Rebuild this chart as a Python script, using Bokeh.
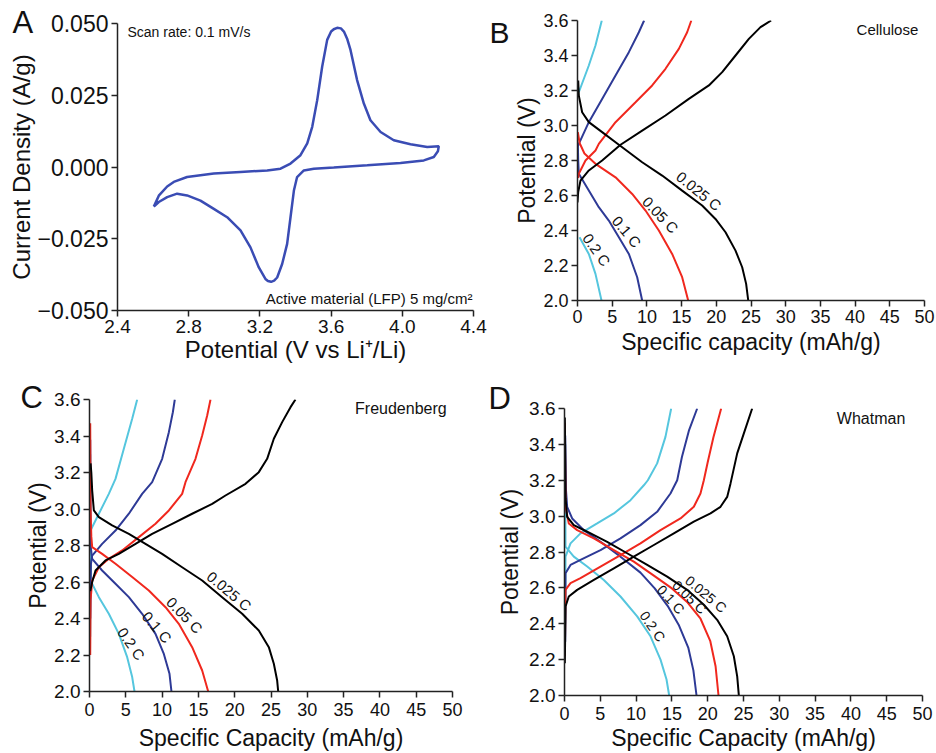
import math
from bokeh.plotting import figure
from bokeh.layouts import row, column
from bokeh.models import Range1d, FixedTicker, Label, Title
from bokeh.core.properties import value
from bokeh.embed import file_html
from bokeh.resources import INLINE

FONT = "Liberation Sans"

# ---------------- Panel A : cyclic voltammogram ----------------
cv_v = [2.604, 2.632, 2.679, 2.716, 2.791, 2.941, 3.091, 3.241, 3.316, 3.372, 3.428, 3.466, 3.494,
        3.522, 3.550, 3.578, 3.600, 3.615, 3.634, 3.655, 3.672, 3.690, 3.709, 3.746, 3.784, 3.821,
        3.878, 3.952, 4.046, 4.140, 4.205, 4.200, 4.177, 4.121, 3.990, 3.803, 3.615, 3.503, 3.447,
        3.409, 3.391, 3.372, 3.353, 3.325, 3.297, 3.280, 3.263, 3.245, 3.231, 3.194, 3.147, 3.091,
        3.016, 2.941, 2.866, 2.791, 2.735, 2.679, 2.632, 2.604]
cv_i = [-0.0138, -0.0100, -0.0068, -0.0052, -0.0035, -0.0023, -0.0017, -0.0012, -0.0006, 0.0012,
        0.0041, 0.0082, 0.0140, 0.0233, 0.0350, 0.0443, 0.0472, 0.0480, 0.0485, 0.0483, 0.0472,
        0.0447, 0.0408, 0.0303, 0.0221, 0.0163, 0.0122, 0.0093, 0.0079, 0.0070, 0.0072, 0.0055,
        0.0035, 0.0023, 0.0014, 0.0006, -0.0002, -0.0006, -0.0012, -0.0035, -0.0082, -0.0175,
        -0.0268, -0.0338, -0.0385, -0.0396, -0.0400, -0.0397, -0.0390, -0.0350, -0.0280, -0.0221,
        -0.0175, -0.0146, -0.0117, -0.0099, -0.0093, -0.0105, -0.0122, -0.0138]
a_xticks = [2.4, 2.8, 3.2, 3.6, 4.0, 4.4]
a_xtick_labels = ["2.4", "2.8", "3.2", "3.6", "4.0", "4.4"]
a_yticks = [-0.05, -0.025, 0.0, 0.025, 0.05]
a_ytick_labels = ["\u22120.050", "\u22120.025", "0.000", "0.025", "0.050"]

# ---------------- shared ticks for B, C, D ----------------
cap_xticks = [0, 5, 10, 15, 20, 25, 30, 35, 40, 45, 50]
pot_yticks = [2.0, 2.2, 2.4, 2.6, 2.8, 3.0, 3.2, 3.4, 3.6]
pot_ytick_labels = ["2.0", "2.2", "2.4", "2.6", "2.8", "3.0", "3.2", "3.4", "3.6"]

rates = ["0.025 C", "0.05 C", "0.1 C", "0.2 C"]
rate_colors = ["#000000", "#f0281e", "#2e3a96", "#55c6de"]

# ---------------- Panel B : Cellulose ----------------
B_025_chg_x = [0, 0.1, 0.43, 1.63, 3.55, 6.2, 9.32, 12.68, 16.04, 18.93, 20.85, 22.77, 24.69, 26.37, 27.9]
B_025_chg_y = [2.56, 2.62, 2.685, 2.743, 2.8, 2.89, 2.971, 3.057, 3.152, 3.229, 3.305, 3.4, 3.495, 3.562, 3.6]
B_025_dis_x = [0.1, 0.19, 0.67, 1.63, 3.55, 5.96, 9.32, 12.2, 15.08, 17.96, 19.88, 21.33, 22.77, 23.73, 24.3, 24.6]
B_025_dis_y = [3.257, 3.171, 3.076, 3.019, 2.962, 2.89, 2.79, 2.714, 2.628, 2.543, 2.466, 2.39, 2.285, 2.19, 2.095, 2.0]
B_05_chg_x = [0.1, 0.19, 1.15, 2.59, 3.07, 5.48, 8.36, 10.76, 12.68, 14.6, 15.8, 16.4]
B_05_chg_y = [2.70, 2.724, 2.8, 2.857, 2.895, 3.019, 3.133, 3.229, 3.324, 3.438, 3.533, 3.6]
B_05_dis_x = [0.05, 0.3, 1.0, 2.59, 5.48, 7.88, 9.8, 11.72, 13.64, 15.08, 15.95]
B_05_dis_y = [2.962, 2.9, 2.84, 2.781, 2.704, 2.609, 2.514, 2.4, 2.266, 2.133, 2.0]
B_1_chg_x = [0.05, 0.19, 1.63, 3.55, 5.48, 7.4, 8.84, 9.6]
B_1_chg_y = [2.88, 2.895, 3.019, 3.152, 3.286, 3.419, 3.533, 3.6]
B_1_dis_x = [0.05, 0.1, 0.19, 1.63, 3.07, 4.51, 5.96, 7.4, 8.6, 9.32]
B_1_dis_y = [2.9, 2.8, 2.724, 2.628, 2.533, 2.457, 2.362, 2.266, 2.133, 2.0]
B_2_chg_x = [0.19, 1.63, 2.59, 3.5]
B_2_chg_y = [3.19, 3.343, 3.457, 3.6]
B_2_dis_x = [0.29, 1.63, 2.59, 3.46]
B_2_dis_y = [2.362, 2.266, 2.152, 2.0]
B_lab_x = [17.5, 11.95, 7.1, 2.75]
B_lab_y = [2.625, 2.49, 2.393, 2.29]
B_lab_angle = [-39, -46, -50, -55]

# ---------------- Panel C : Freudenberg ----------------
C_025_chg_x = [0.1, 0.37, 0.83, 2.2, 4.04, 6.34, 8.63, 11.39, 14.14, 16.9, 18.73, 21.49, 23.32, 24.47, 25.39, 26.54, 27.69, 28.37]
C_025_chg_y = [2.55, 2.6, 2.663, 2.718, 2.754, 2.809, 2.864, 2.919, 2.974, 3.028, 3.074, 3.138, 3.202, 3.275, 3.385, 3.476, 3.558, 3.6]
C_025_dis_x = [0.15, 0.25, 0.37, 0.6, 1.29, 3.12, 5.42, 7.71, 10.0, 12.76, 15.52, 18.27, 21.03, 23.32, 24.7, 25.39, 25.85, 25.99]
C_025_dis_y = [3.25, 3.2, 3.101, 2.992, 2.955, 2.91, 2.864, 2.809, 2.754, 2.681, 2.608, 2.517, 2.426, 2.334, 2.243, 2.152, 2.06, 2.0]
C_05_chg_x = [0.1, 0.15, 0.37, 1.29, 2.66, 4.5, 6.8, 9.09, 10.93, 12.76, 13.22, 14.6, 15.52, 16.21, 16.67]
C_05_chg_y = [2.2, 2.5, 2.608, 2.681, 2.727, 2.773, 2.846, 2.919, 2.992, 3.083, 3.147, 3.275, 3.403, 3.512, 3.6]
C_05_dis_x = [0.1, 0.15, 0.25, 0.37, 1.74, 3.58, 5.88, 8.17, 10.47, 12.3, 14.14, 15.52, 16.35]
C_05_dis_y = [3.47, 3.0, 2.85, 2.791, 2.754, 2.7, 2.627, 2.553, 2.462, 2.371, 2.243, 2.115, 2.0]
C_1_chg_x = [0.1, 0.2, 0.37, 1.74, 3.58, 5.42, 7.25, 8.63, 10.01, 10.93, 11.48, 11.75]
C_1_chg_y = [2.4, 2.7, 2.745, 2.809, 2.882, 2.974, 3.083, 3.147, 3.275, 3.421, 3.53, 3.6]
C_1_dis_x = [0.1, 0.15, 0.37, 1.74, 3.58, 5.42, 7.25, 9.09, 10.24, 11.02, 11.29]
C_1_dis_y = [3.38, 2.8, 2.727, 2.663, 2.59, 2.517, 2.426, 2.316, 2.206, 2.097, 2.0]
C_2_chg_x = [0.1, 0.14, 1.29, 2.66, 3.58, 4.73, 5.88, 6.57]
C_2_chg_y = [2.3, 2.882, 2.974, 3.083, 3.165, 3.33, 3.494, 3.6]
C_2_dis_x = [0.1, 0.14, 1.29, 2.66, 4.04, 5.19, 5.88, 6.2]
C_2_dis_y = [3.3, 2.608, 2.517, 2.426, 2.316, 2.188, 2.079, 2.0]
C_lab_x = [19.25, 13.1, 9.3, 5.75]
C_lab_y = [2.55, 2.418, 2.352, 2.262]
C_lab_angle = [-40, -46, -49, -55]

# ---------------- Panel D : Whatman ----------------
D_025_chg_x = [0.05, 0.14, 0.6, 1.77, 4.1, 6.89, 9.68, 12.48, 15.27, 18.06, 20.39, 21.79, 22.72, 23.18, 24.12, 25.05, 26.21]
D_025_chg_y = [2.18, 2.496, 2.552, 2.589, 2.644, 2.709, 2.774, 2.839, 2.904, 2.969, 3.015, 3.052, 3.107, 3.181, 3.35, 3.461, 3.6]
D_025_dis_x = [0.05, 0.15, 0.37, 1.3, 3.17, 5.96, 8.75, 11.55, 14.34, 17.13, 19.46, 21.32, 22.72, 23.65, 24.12, 24.35]
D_025_dis_y = [3.55, 3.1, 2.996, 2.95, 2.913, 2.857, 2.793, 2.728, 2.663, 2.589, 2.506, 2.422, 2.33, 2.219, 2.107, 2.0]
D_05_chg_x = [0.05, 0.14, 0.84, 2.23, 5.03, 7.82, 10.61, 13.41, 16.2, 18.06, 18.99, 19.46, 20.0, 20.8, 21.88]
D_05_chg_y = [2.22, 2.589, 2.626, 2.654, 2.719, 2.783, 2.848, 2.922, 2.987, 3.052, 3.126, 3.2, 3.3, 3.44, 3.6]
D_05_dis_x = [0.05, 0.15, 0.6, 1.77, 4.1, 6.89, 9.68, 12.48, 15.0, 17.2, 19.0, 20.35, 21.1, 21.51]
D_05_dis_y = [3.52, 3.05, 2.959, 2.922, 2.876, 2.811, 2.746, 2.668, 2.597, 2.518, 2.428, 2.305, 2.163, 2.0]
D_1_chg_x = [0.1, 0.14, 0.84, 2.23, 5.03, 7.82, 10.61, 12.94, 14.8, 15.74, 16.4, 17.4, 18.53]
D_1_chg_y = [2.3, 2.681, 2.728, 2.756, 2.811, 2.876, 2.95, 3.024, 3.126, 3.2, 3.33, 3.48, 3.6]
D_1_dis_x = [0.1, 0.2, 0.37, 1.07, 2.7, 5.03, 7.82, 10.61, 12.6, 14.4, 16.0, 17.3, 18.0, 18.44]
D_1_dis_y = [3.45, 3.15, 3.052, 2.987, 2.922, 2.857, 2.774, 2.685, 2.597, 2.5, 2.39, 2.265, 2.14, 2.0]
D_2_chg_x = [0.1, 0.14, 0.84, 2.23, 4.56, 6.89, 9.22, 11.08, 11.64, 12.94, 14.1, 14.9]
D_2_chg_y = [2.4, 2.774, 2.848, 2.904, 2.959, 3.015, 3.089, 3.172, 3.2, 3.294, 3.442, 3.6]
D_2_dis_x = [0.1, 0.14, 1.3, 3.17, 5.49, 7.82, 10.15, 12.01, 13.41, 14.25, 14.62]
D_2_dis_y = [3.4, 2.83, 2.774, 2.719, 2.644, 2.552, 2.441, 2.33, 2.2, 2.089, 2.0]
D_lab_x = [19.75, 17.45, 14.85, 12.3]
D_lab_y = [2.565, 2.548, 2.535, 2.385]
D_lab_angle = [-40, -44, -48, -55]


def style_axes(p, xtick_size, ytick_size, label_size, xl_standoff, yl_standoff, xt_standoff=3):
    p.outline_line_color = None
    p.grid.visible = False
    p.background_fill_color = "white"
    p.border_fill_color = "white"
    for ax in (p.xaxis[0], p.yaxis[0]):
        ax.axis_line_color = "#222222"
        ax.axis_line_width = 1.5
        ax.major_tick_line_color = "#222222"
        ax.major_tick_line_width = 1.5
        ax.major_tick_out = 6
        ax.major_tick_in = 0
        ax.minor_tick_out = 0
        ax.minor_tick_in = 0
        ax.major_label_text_font = FONT
        ax.major_label_text_color = "#111111"
        ax.axis_label_text_font = FONT
        ax.axis_label_text_font_style = "normal"
        ax.axis_label_text_color = "#111111"
        ax.axis_label_text_font_size = label_size
        ax.major_label_standoff = 3
    p.xaxis[0].major_label_standoff = xt_standoff
    p.xaxis[0].major_label_text_font_size = xtick_size
    p.yaxis[0].major_label_text_font_size = ytick_size
    p.xaxis[0].axis_label_standoff = xl_standoff
    p.yaxis[0].axis_label_standoff = yl_standoff


def make_fig(w, h, bl, br, bt, bb, xr, yr):
    return figure(width=w, height=h, x_range=Range1d(*xr), y_range=Range1d(*yr),
                  output_backend="svg", toolbar_location=None,
                  min_border_left=bl, min_border_right=br,
                  min_border_top=bt, min_border_bottom=bb)


def panel_letter(p, letter, x, y, size):
    p.add_layout(Label(x=x, y=y, x_units="screen", y_units="screen", text=letter,
                       text_font=FONT, text_font_size=size, text_color="#111111",
                       text_align="left", text_baseline="alphabetic"), "left")


def note(p, x, y, txt, size, align="left"):
    p.add_layout(Label(x=x, y=y, text=txt, text_font=FONT, text_font_size=size,
                       text_color="#111111", text_align=align, text_baseline="middle"))


def cap_panel(p, curves, lab_x, lab_y, lab_angle, lab_size="15px"):
    p.xaxis[0].ticker = FixedTicker(ticks=cap_xticks)
    p.yaxis[0].ticker = FixedTicker(ticks=pot_yticks)
    p.yaxis[0].major_label_overrides = {t: s for t, s in zip(pot_yticks, pot_ytick_labels)}
    for (cx, cy), col in curves:
        p.line(cx, cy, line_color=col, line_width=2)
    p.text(x=lab_x, y=lab_y, text=rates, angle=[math.radians(a) for a in lab_angle],
           text_font=value(FONT), text_font_size=lab_size, text_color="#111111",
           text_align="center", text_baseline="middle")


# ---- A ----
pA = make_fig(487, 370, 117, 14, 23, 60, (2.4, 4.4), (-0.05, 0.05))
style_axes(pA, "19px", "23px", "24px", 0, 0)
pA.xaxis[0].ticker = FixedTicker(ticks=a_xticks)
pA.xaxis[0].major_label_overrides = {t: s for t, s in zip(a_xticks, a_xtick_labels)}
pA.yaxis[0].ticker = FixedTicker(ticks=a_yticks)
pA.yaxis[0].major_label_overrides = {t: s for t, s in zip(a_yticks, a_ytick_labels)}
pA.xaxis[0].axis_label = "Potential (V vs Li\u207a/Li)"
pA.yaxis[0].axis_label = "Current Density (A/g)"
pA.line(cv_v, cv_i, line_color="#3a4cb4", line_width=2.5)
note(pA, 2.456, 0.0469, "Scan rate: 0.1 mV/s", "14px")
note(pA, 4.394, -0.0458, "Active material (LFP) 5 mg/cm\u00b2", "15px", align="right")
pA.title = Title(text="A", align="left", offset=-105, standoff=-33, vertical_align="bottom",
                 text_font=FONT, text_font_size="31px", text_font_style="normal",
                 text_color="#111111")

# ---- B ----
pB = make_fig(449, 370, 90, 12, 20, 70, (0, 50), (2.0, 3.6))
style_axes(pB, "18px", "18px", "23px", 3, 0)
pB.xaxis[0].axis_label = "Specific capacity (mAh/g)"
pB.yaxis[0].axis_label = "Potential (V)"
cap_panel(pB, [((B_2_chg_x, B_2_chg_y), rate_colors[3]), ((B_2_dis_x, B_2_dis_y), rate_colors[3]),
               ((B_1_chg_x, B_1_chg_y), rate_colors[2]), ((B_1_dis_x, B_1_dis_y), rate_colors[2]),
               ((B_05_chg_x, B_05_chg_y), rate_colors[1]), ((B_05_dis_x, B_05_dis_y), rate_colors[1]),
               ((B_025_chg_x, B_025_chg_y), rate_colors[0]), ((B_025_dis_x, B_025_dis_y), rate_colors[0])],
          B_lab_x, B_lab_y, B_lab_angle)
note(pB, 49.1, 3.549, "Cellulose", "15px", align="right")
panel_letter(pB, "B", -2, 268, "30px")

# ---- C ----
pC = make_fig(467, 383, 89, 15, 29, 62, (0, 50), (2.0, 3.6))
style_axes(pC, "18px", "19px", "23px", 6, 0, 5)
pC.xaxis[0].axis_label = "Specific Capacity (mAh/g)"
pC.yaxis[0].axis_label = "Potential (V)"
cap_panel(pC, [((C_2_chg_x, C_2_chg_y), rate_colors[3]), ((C_2_dis_x, C_2_dis_y), rate_colors[3]),
               ((C_1_chg_x, C_1_chg_y), rate_colors[2]), ((C_1_dis_x, C_1_dis_y), rate_colors[2]),
               ((C_05_chg_x, C_05_chg_y), rate_colors[1]), ((C_05_dis_x, C_05_dis_y), rate_colors[1]),
               ((C_025_chg_x, C_025_chg_y), rate_colors[0]), ((C_025_dis_x, C_025_dis_y), rate_colors[0])],
          C_lab_x, C_lab_y, C_lab_angle)
note(pC, 49.2, 3.551, "Freudenberg", "16px", align="right")
panel_letter(pC, "C", 20, 294, "31px")

# ---- D ----
pD = make_fig(469, 383, 97, 14, 38, 57, (0, 50), (2.0, 3.6))
style_axes(pD, "18px", "19px", "23px", 2, 3, 5)
pD.xaxis[0].axis_label = "Specific Capacity (mAh/g)"
pD.yaxis[0].axis_label = "Potential (V)"
cap_panel(pD, [((D_2_chg_x, D_2_chg_y), rate_colors[3]), ((D_2_dis_x, D_2_dis_y), rate_colors[3]),
               ((D_1_chg_x, D_1_chg_y), rate_colors[2]), ((D_1_dis_x, D_1_dis_y), rate_colors[2]),
               ((D_05_chg_x, D_05_chg_y), rate_colors[1]), ((D_05_dis_x, D_05_dis_y), rate_colors[1]),
               ((D_025_chg_x, D_025_chg_y), rate_colors[0]), ((D_025_dis_x, D_025_dis_y), rate_colors[0])],
          D_lab_x, D_lab_y, D_lab_angle, "14px")
note(pD, 47.6, 3.544, "Whatman", "16px", align="right")
panel_letter(pD, "D", 16, 297, "31px")

layout = column(row(column(pA), column(pB)), row(column(pC), column(pD)))
open("out.html", "w").write(file_html(layout, INLINE))
